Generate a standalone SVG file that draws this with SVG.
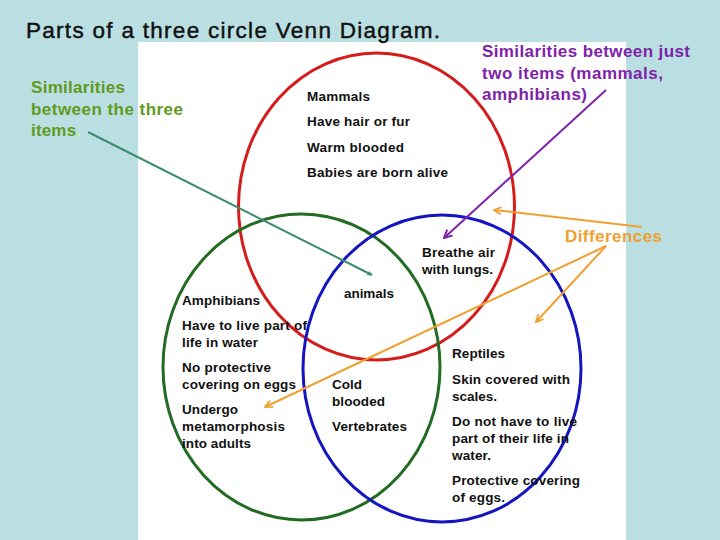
<svg xmlns="http://www.w3.org/2000/svg" width="720" height="540" viewBox="0 0 720 540">
<style>
.lbl{font-family:"Liberation Sans",Arial,sans-serif;font-weight:bold;font-size:13.5px;fill:#111}
.note{font-family:"Liberation Sans",Arial,sans-serif;font-weight:bold;font-size:17px}
.ring{fill:none;stroke-width:3}
.arr{fill:none;stroke-width:2}
</style>
<defs>
<marker id="hTeal" viewBox="0 0 10 10" refX="9" refY="5" markerWidth="5" markerHeight="5" orient="auto" markerUnits="userSpaceOnUse"><path d="M0,0 L10,5 L0,10 Z" fill="#3a8c6e"/></marker>
<marker id="hPurple" viewBox="0 0 10 10" refX="9" refY="5" markerWidth="10" markerHeight="10" orient="auto" markerUnits="userSpaceOnUse"><path d="M1,1 L9,5 L1,9" fill="none" stroke="#7e22a8" stroke-width="2"/></marker>
<marker id="hOrange" viewBox="0 0 10 10" refX="9" refY="5" markerWidth="9" markerHeight="9" orient="auto" markerUnits="userSpaceOnUse"><path d="M1,1 L9,5 L1,9" fill="none" stroke="#f0a030" stroke-width="2"/></marker>
</defs>
<rect x="0" y="0" width="720" height="540" fill="#b9dfe3"/>
<rect x="138" y="42" width="488" height="498" fill="#ffffff"/>
<g id="title">
<text x="26" y="37.5" font-family="'Liberation Sans',Arial,sans-serif" font-size="22.5" fill="#111" stroke="#111" stroke-width="0.45" textLength="414" lengthAdjust="spacing">Parts of a three circle Venn Diagram.</text>
</g>
<g id="mammals">
<ellipse class="ring" cx="376.5" cy="206.5" rx="138" ry="153.5" stroke="#d41c1c"/>
<text class="lbl" x="307" y="101" textLength="63">Mammals</text>
<text class="lbl" x="307" y="126" textLength="103">Have hair or fur</text>
<text class="lbl" x="307" y="152" textLength="97">Warm blooded</text>
<text class="lbl" x="307" y="177" textLength="141">Babies are born alive</text>
</g>
<g id="amphibians">
<ellipse class="ring" cx="301.5" cy="367" rx="138.5" ry="153" stroke="#226b22"/>
<text class="lbl" x="182" y="305" textLength="78">Amphibians</text>
<text class="lbl" x="182" y="330" textLength="125">Have to live part of</text>
<text class="lbl" x="182" y="347" textLength="76">life in water</text>
<text class="lbl" x="182" y="372" textLength="89">No protective</text>
<text class="lbl" x="182" y="389" textLength="114">covering on eggs</text>
<text class="lbl" x="182" y="414" textLength="56">Undergo</text>
<text class="lbl" x="182" y="431" textLength="103">metamorphosis</text>
<text class="lbl" x="182" y="448" textLength="69">into adults</text>
</g>
<g id="reptiles">
<ellipse class="ring" cx="442" cy="368.5" rx="139" ry="153.5" stroke="#1515c0"/>
<text class="lbl" x="452" y="358" textLength="53">Reptiles</text>
<text class="lbl" x="452" y="384" textLength="118">Skin covered with</text>
<text class="lbl" x="452" y="401" textLength="45">scales.</text>
<text class="lbl" x="452" y="426" textLength="125">Do not have to live</text>
<text class="lbl" x="452" y="443" textLength="117">part of their life in</text>
<text class="lbl" x="452" y="460" textLength="39">water.</text>
<text class="lbl" x="452" y="485" textLength="128">Protective covering</text>
<text class="lbl" x="452" y="502" textLength="53">of eggs.</text>
</g>
<g id="mammals-amphibians">
<text class="lbl" x="422" y="257" textLength="73">Breathe air</text>
<text class="lbl" x="422" y="274" textLength="71">with lungs.</text>
</g>
<g id="all-three">
<text class="lbl" x="344" y="298" textLength="50">animals</text>
</g>
<g id="amphibians-reptiles">
<text class="lbl" x="332" y="389" textLength="30">Cold</text>
<text class="lbl" x="332" y="406" textLength="53">blooded</text>
<text class="lbl" x="332" y="431" textLength="75">Vertebrates</text>
</g>
<g id="note-three">
<text class="note" fill="#609a1c" x="31" y="93" textLength="94">Similarities</text>
<text class="note" fill="#609a1c" x="31" y="115" textLength="152">between the three</text>
<text class="note" fill="#609a1c" x="31" y="136" textLength="50">items<tspan fill="#d8ef80">.</tspan></text>
</g>
<g id="note-two">
<text class="note" fill="#7e22a8" x="482" y="57" textLength="208">Similarities between just</text>
<text class="note" fill="#7e22a8" x="482" y="79" textLength="181">two items (mammals,</text>
<text class="note" fill="#7e22a8" x="482" y="100" textLength="105">amphibians)</text>
</g>
<g id="note-diff">
<text class="note" fill="#f0a030" x="565" y="242" textLength="97">Differences</text>
</g>
<g id="connectors">
<line class="arr" x1="88" y1="132" x2="372" y2="275" stroke="#3a8c6e" marker-end="url(#hTeal)"/>
<line class="arr" x1="606" y1="90" x2="444" y2="238" stroke="#7e22a8" marker-end="url(#hPurple)"/>
<line class="arr" x1="642" y1="227" x2="494" y2="210" stroke="#f0a030" marker-end="url(#hOrange)"/>
<line class="arr" x1="606" y1="246" x2="265" y2="407" stroke="#f0a030" marker-end="url(#hOrange)"/>
<line class="arr" x1="606" y1="246" x2="536" y2="322" stroke="#f0a030" marker-end="url(#hOrange)"/>
</g>
</svg>
